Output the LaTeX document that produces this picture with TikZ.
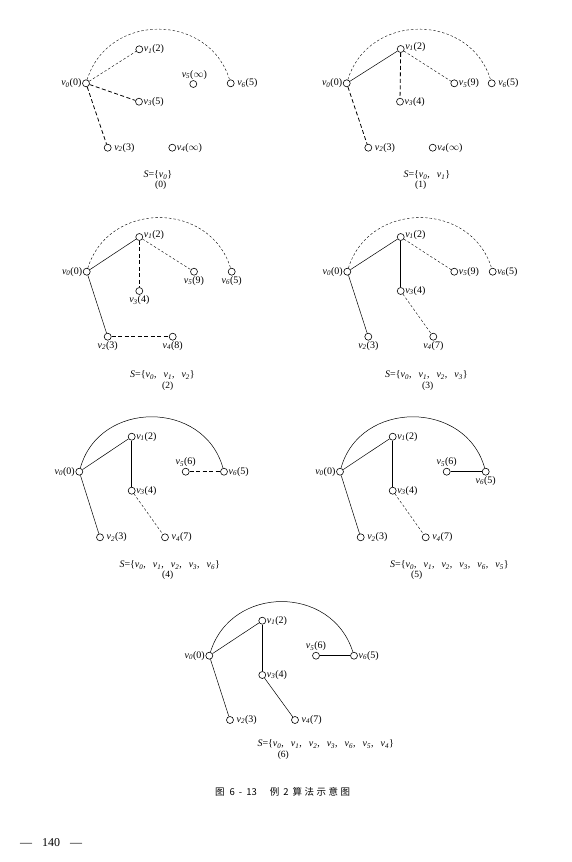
\documentclass[tikz,border=0pt]{standalone}
\usepackage{fontspec}
\setmainfont{Liberation Serif}
\newfontfamily\cjk{Noto Sans CJK SC}
\newcommand{\vl}[2]{\textit{v}\textsubscript{\textit{#1}}(#2)}
\newcommand{\vs}[1]{\textit{v}\textsubscript{\textit{#1}}}
\newcommand{\cm}{,\hspace{0.7em}}
\tikzset{
  vtx/.style={circle, draw, line width=0.6pt, fill=white, minimum size=7pt, inner sep=0pt},
  lab/.style={font=\fontsize{10}{10}\selectfont, inner sep=0.6pt},
  sol/.style={line width=0.5pt},
  solb/.style={line width=0.9pt},
  dsh/.style={line width=0.4pt, dash pattern=on 2.5pt off 2pt},
  dshb/.style={line width=0.8pt, dash pattern=on 4pt off 2.5pt},
  slab/.style={font=\fontsize{10}{10}\selectfont, anchor=west, inner sep=0pt},
  nlab/.style={font=\fontsize{9.5}{10}\selectfont, inner sep=0pt},
}
\begin{document}
\begin{tikzpicture}[x=1pt,y=-1pt]
\useasboundingbox[fill=white] (0,0) rectangle (572,862);

% ---------- Panel (0)
\node[vtx,label={[lab]left:\vl{0}{0}}] (a0) at (86,83.3) {};
\node[vtx,label={[lab]right:\vl{1}{2}}] (a1) at (139.3,49.3) {};
\node[vtx,label={[lab]right:\vl{3}{5}}] (a3) at (139,101.7) {};
\node[vtx,label={[lab,xshift=1pt]above:\vl{5}{$\infty$}}] (a5) at (193.3,84) {};
\node[vtx,label={[lab,label distance=2pt]right:\vl{6}{5}}] (a6) at (230.7,83.3) {};
\node[vtx,label={[lab,label distance=2pt]right:\vl{2}{3}}] (a2) at (107.7,147.7) {};
\node[vtx,label={[lab]right:\vl{4}{$\infty$}}] (a4) at (172.3,147.7) {};
\draw[dsh] (a0) -- (a1);
\draw[dshb] (a0) -- (a3);
\draw[dshb] (a0) -- (a2);
\draw[dsh] (a0) .. controls +(22,-71) and +(-22,-71) .. (a6);
\node[slab] (sa) at (143.3,175) {\textit{S}=\{\vs{0}\}};
\node[nlab] (na) at (160.7,185.7) {(0)};

% ---------- Panel (1)
\node[vtx,label={[lab]left:\vl{0}{0}}] (b0) at (346.7,83.3) {};
\node[vtx,label={[lab,yshift=2pt]right:\vl{1}{2}}] (b1) at (400.7,49) {};
\node[vtx,label={[lab]right:\vl{3}{4}}] (b3) at (400,101.7) {};
\node[vtx,label={[lab]right:\vl{5}{9}}] (b5) at (454.3,83.3) {};
\node[vtx,label={[lab,label distance=2pt]right:\vl{6}{5}}] (b6) at (491.7,83.3) {};
\node[vtx,label={[lab,label distance=2pt]right:\vl{2}{3}}] (b2) at (368.3,147.7) {};
\node[vtx,label={[lab]right:\vl{4}{$\infty$}}] (b4) at (432.7,147.7) {};
\draw[sol] (b0) -- (b1);
\draw[dshb] (b1) -- (b3);
\draw[dsh] (b1) -- (b5);
\draw[dshb] (b0) -- (b2);
\draw[dsh] (b0) .. controls +(22,-71) and +(-22,-71) .. (b6);
\node[slab] (sb) at (403.3,175) {\textit{S}=\{\vs{0}\cm\vs{1}\}};
\node[nlab] (nb) at (420.7,185.7) {(1)};

% ---------- Panel (2)
\node[vtx,label={[lab]left:\vl{0}{0}}] (c0) at (86.7,271.7) {};
\node[vtx,label={[lab,yshift=2pt]right:\vl{1}{2}}] (c1) at (139.3,237) {};
\node[vtx,label={[lab]below:\vl{3}{4}}] (c3) at (139.3,291) {};
\node[vtx,label={[lab]below:\vl{5}{9}}] (c5) at (194,271.7) {};
\node[vtx,label={[lab]below:\vl{6}{5}}] (c6) at (231.7,271.7) {};
\node[vtx,label={[lab]below:\vl{2}{3}}] (c2) at (107.7,336.7) {};
\node[vtx,label={[lab]below:\vl{4}{8}}] (c4) at (172.7,336.7) {};
\draw[sol] (c0) -- (c1);
\draw[dshb] (c1) -- (c3);
\draw[dsh] (c1) -- (c5);
\draw[sol] (c0) -- (c2);
\draw[dshb] (c2) -- (c4);
\draw[dsh] (c0) .. controls +(22,-71) and +(-22,-71) .. (c6);
\node[slab] (sc) at (130,375) {\textit{S}=\{\vs{0}\cm\vs{1}\cm\vs{2}\}};
\node[nlab] (nc) at (167.7,386) {(2)};

% ---------- Panel (3)
\node[vtx,label={[lab]left:\vl{0}{0}}] (d0) at (347.3,271.7) {};
\node[vtx,label={[lab,yshift=2pt]right:\vl{1}{2}}] (d1) at (400.7,237) {};
\node[vtx,label={[lab]right:\vl{3}{4}}] (d3) at (400.7,291) {};
\node[vtx,label={[lab]right:\vl{5}{9}}] (d5) at (454.3,271.7) {};
\node[vtx,label={[lab]right:\vl{6}{5}}] (d6) at (492.7,271.7) {};
\node[vtx,label={[lab]below:\vl{2}{3}}] (d2) at (368.3,336.7) {};
\node[vtx,label={[lab]below:\vl{4}{7}}] (d4) at (433.3,336.7) {};
\draw[sol] (d0) -- (d1);
\draw[solb] (d1) -- (d3);
\draw[dsh] (d1) -- (d5);
\draw[sol] (d0) -- (d2);
\draw[dsh] (d3) -- (d4);
\draw[dsh] (d0) .. controls +(22,-71) and +(-22,-71) .. (d6);
\node[slab] (sd) at (385,375) {\textit{S}=\{\vs{0}\cm\vs{1}\cm\vs{2}\cm\vs{3}\}};
\node[nlab] (nd) at (427.7,386) {(3)};

% ---------- Panel (4)
\node[vtx,label={[lab]left:\vl{0}{0}}] (e0) at (79.3,471.7) {};
\node[vtx,label={[lab]right:\vl{1}{2}}] (e1) at (131.7,436.7) {};
\node[vtx,label={[lab]right:\vl{3}{4}}] (e3) at (131.7,490.7) {};
\node[vtx,label={[lab]above:\vl{5}{6}}] (e5) at (185.7,471.7) {};
\node[vtx,label={[lab]right:\vl{6}{5}}] (e6) at (224,471.7) {};
\node[vtx,label={[lab,label distance=2pt]right:\vl{2}{3}}] (e2) at (100,537.3) {};
\node[vtx,label={[lab,label distance=2pt]right:\vl{4}{7}}] (e4) at (165,537.3) {};
\draw[sol] (e0) -- (e1);
\draw[sol] (e1) -- (e3);
\draw[sol] (e0) -- (e2);
\draw[dsh] (e3) -- (e4);
\draw[dshb] (e5) -- (e6);
\draw[sol] (e0) .. controls +(20,-72) and +(-20,-72) .. (e6);
\node[slab] (se) at (119.3,565) {\textit{S}=\{\vs{0}\cm\vs{1}\cm\vs{2}\cm\vs{3}\cm\vs{6}\}};
\node[nlab] (ne) at (167.7,575.7) {(4)};

% ---------- Panel (5)
\node[vtx,label={[lab]left:\vl{0}{0}}] (f0) at (340,471.7) {};
\node[vtx,label={[lab]right:\vl{1}{2}}] (f1) at (392.7,436.7) {};
\node[vtx,label={[lab]right:\vl{3}{4}}] (f3) at (392.7,490.7) {};
\node[vtx,label={[lab]above:\vl{5}{6}}] (f5) at (446.7,471.7) {};
\node[vtx,label={[lab]below:\vl{6}{5}}] (f6) at (485.7,471.7) {};
\node[vtx,label={[lab,label distance=2pt]right:\vl{2}{3}}] (f2) at (360.7,537.3) {};
\node[vtx,label={[lab,label distance=2pt]right:\vl{4}{7}}] (f4) at (425.7,537.3) {};
\draw[sol] (f0) -- (f1);
\draw[sol] (f1) -- (f3);
\draw[sol] (f0) -- (f2);
\draw[dsh] (f3) -- (f4);
\draw[solb] (f5) -- (f6);
\draw[sol] (f0) .. controls +(20,-72) and +(-20,-72) .. (f6);
\node[slab] (sf) at (390,565) {\textit{S}=\{\vs{0}\cm\vs{1}\cm\vs{2}\cm\vs{3}\cm\vs{6}\cm\vs{5}\}};
\node[nlab] (nf) at (416.7,575.7) {(5)};

% ---------- Panel (6)
\node[vtx,label={[lab]left:\vl{0}{0}}] (g0) at (209.3,655.7) {};
\node[vtx,label={[lab]right:\vl{1}{2}}] (g1) at (262.3,620.7) {};
\node[vtx,label={[lab]right:\vl{3}{4}}] (g3) at (262.3,675) {};
\node[vtx,label={[lab]above:\vl{5}{6}}] (g5) at (316,655.7) {};
\node[vtx,label={[lab]right:\vl{6}{5}}] (g6) at (354,655.7) {};
\node[vtx,label={[lab,label distance=2pt]right:\vl{2}{3}}] (g2) at (230,720) {};
\node[vtx,label={[lab,label distance=2pt]right:\vl{4}{7}}] (g4) at (295,720) {};
\draw[sol] (g0) -- (g1);
\draw[sol] (g1) -- (g3);
\draw[sol] (g0) -- (g2);
\draw[sol] (g3) -- (g4);
\draw[solb] (g5) -- (g6);
\draw[sol] (g0) .. controls +(22,-71) and +(-22,-71) .. (g6);
\node[slab] (sg) at (257.3,744) {\textit{S}=\{\vs{0}\cm\vs{1}\cm\vs{2}\cm\vs{3}\cm\vs{6}\cm\vs{5}\cm\vs{4}\}};
\node[nlab] (ng) at (283.3,755) {(6)};

% ---------- caption and page number
\node[font=\fontsize{9.5}{10}\selectfont\cjk, inner sep=0pt, anchor=west] (cap) at (215,791.5)
  {图\hspace{5pt}6\hspace{4pt}-\hspace{4pt}13\hspace{13pt}例\hspace{4pt}2\hspace{4pt}算\hspace{2.5pt}法\hspace{2.5pt}示\hspace{2.5pt}意\hspace{2.5pt}图};
\node[font=\fontsize{12}{12}\selectfont, inner sep=0pt, anchor=west] (pg) at (20,842.5) {—\hspace{10pt}140\hspace{10pt}—};
\end{tikzpicture}
\end{document}
